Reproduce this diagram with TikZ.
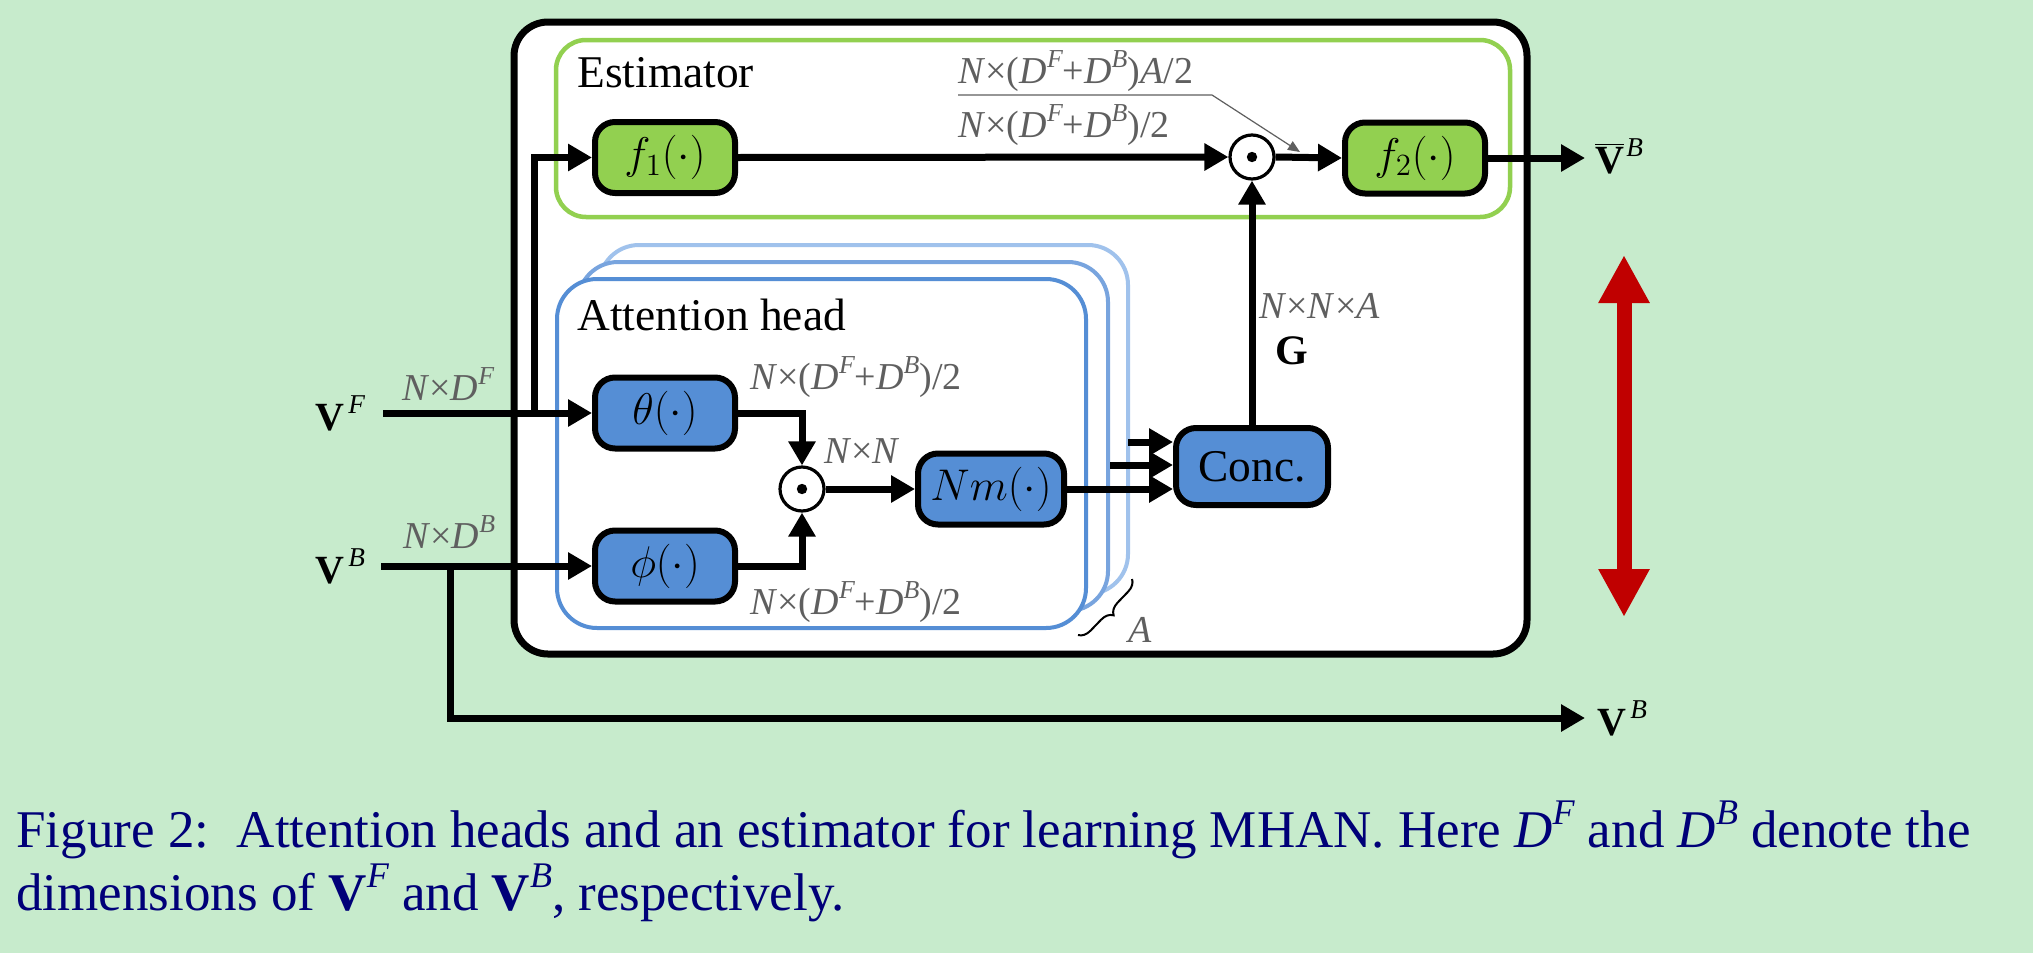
\documentclass[tikz,border=0pt]{standalone}
\usepackage[no-math]{fontspec}
\setmainfont{Liberation Serif}
\usetikzlibrary{arrows.meta,decorations.pathreplacing,calc}
\definecolor{bgc}{RGB}{199,235,204}
\definecolor{fgreen}{RGB}{146,208,80}
\definecolor{fblue}{RGB}{85,142,213}
\definecolor{sblueA}{RGB}{85,142,213}
\definecolor{sblueB}{RGB}{120,164,222}
\definecolor{sblueC}{RGB}{160,194,236}
\definecolor{dimc}{RGB}{95,95,95}
\definecolor{capc}{RGB}{0,0,120}
\definecolor{redc}{RGB}{192,0,0}
\newcommand{\fsz}[1]{\fontsize{#1}{#1}\selectfont}
\newcommand{\itsup}[1]{\raisebox{0.42em}{\scalebox{0.68}{\itshape #1}}}
\newcommand{\blab}[1]{\scalebox{1.07}{$#1$}}
\newcommand{\halfdim}{\textit{N}×(\textit{D}\itsup{F}+\textit{D}\itsup{B})/2}
\tikzset{
  bx/.style={draw=black, line width=3pt, rounded corners=10pt, minimum width=70pt,
    minimum height=35.5pt, inner sep=0pt, font=\fsz{21}},
  gbx/.style={bx, fill=fgreen},
  bbx/.style={bx, fill=fblue},
  odot/.style={circle, draw=black, line width=1.6pt, fill=white, minimum size=22pt, inner sep=0pt},
  ar/.style={line width=3.5pt, -{Triangle[length=12pt,width=13pt]}},
  dim/.style={text=dimc, font=\fsz{19}, inner sep=0pt, anchor=base west},
  ttl/.style={font=\fsz{22.7}, inner sep=0pt, anchor=base west},
  vlab/.style={font=\fsz{20}, inner sep=0pt, anchor=base west},
  capt/.style={text=capc, font=\fsz{26.5}, inner sep=0pt, anchor=base west},
  stk/.style={line width=2pt, fill=white, rounded corners=20pt},
}
\begin{document}
\begin{tikzpicture}[x=0.5pt,y=-0.5pt]
\fill[bgc] (0,0) rectangle (2033,953);
\useasboundingbox (0,0) rectangle (2033,953);

% containers
\draw[line width=3.5pt, fill=white, rounded corners=17pt] (514,22) rectangle (1527,654);
\draw[line width=2.25pt, draw=fgreen, rounded corners=15pt] (556,40) rectangle (1510,217);
\draw[stk, draw=sblueC] (599,245) rectangle (1128,594);
\draw[stk, draw=sblueB] (578,262) rectangle (1108,611);
\draw[stk, draw=sblueA] (557,279) rectangle (1086,628);

% titles
\node[ttl] (est) at (577,87) {Estimator};
\node[ttl] (att) at (577,330) {Attention head};

% blocks
\node[gbx] (f1) at (665,157.5) {\blab{f_1(\cdot)}};
\node[gbx] (f2) at (1415,158) {\blab{f_2(\cdot)}};
\node[bbx] (th) at (665,413) {\blab{\theta(\cdot)}};
\node[bbx] (ph) at (665,566) {\blab{\phi(\cdot)}};
\node[bbx, minimum width=73pt] (nm) at (991,489) {\blab{Nm(\cdot)}};
\node[bbx, minimum width=76pt, minimum height=38.5pt, font=\fsz{22.7}] (cc) at (1252,466.5) {Conc.};
\node[odot] (o1) at (1252,157) {};
\fill (o1.center) circle (2.6pt);
\node[odot] (o2) at (802,489) {};
\fill (o2.center) circle (2.6pt);

% input / output labels
\node[vlab] (vf) at (315,430) {\textbf{V}\hspace{2pt}\itsup{F}};
\node[vlab] (vb) at (315,583) {\textbf{V}\hspace{2pt}\itsup{B}};
\node[vlab] (vbar) at (1595,173) {$\overline{\mbox{\textbf{V}}}$\hspace{1pt}\itsup{B}};
\node[vlab] (vbo) at (1597,735) {\textbf{V}\hspace{2pt}\itsup{B}};

\coordinate (vfs) at (383,413);
\coordinate (jF) at (534,413);
\coordinate (vbs) at (381,566);
\coordinate (jB) at (450,566);
\coordinate (vbend) at (1585,718);
\coordinate (vbarend) at (1585,158);
\coordinate (s1) at (1128,442);
\coordinate (s2) at (1110,465);

% connectors
\draw[ar] (vfs) -- (th.west);
\draw[ar] (jF) |- (f1.west);
\draw[ar] (vbs) -- (ph.west);
\draw[ar] (jB) |- (vbend);
\draw[ar] (th.east) -| (o2.north);
\draw[ar] (ph.east) -| (o2.south);
\draw[ar] (o2.east) -- (nm.west);
\draw[ar] (nm.east) -- (nm.east -| cc.west);
\draw[ar] (s2) -- (s2 -| cc.west);
\draw[ar] (s1) -- (s1 -| cc.west);
\draw[ar] (cc.north) -- (o1.south);
\draw[ar] (f1.east) -- (o1.west);
\draw[ar] (o1.east) -- (f2.west);
\draw[ar] (f2.east) -- (vbarend);

% dimension labels
\node[dim] (ldf) at (402,400) {\textit{N}×\textit{D}\itsup{F}};
\node[dim] (ldb) at (403,548) {\textit{N}×\textit{D}\itsup{B}};
\node[dim] (lth) at (750,389) {\halfdim};
\node[dim] (lph) at (750,614) {\halfdim};
\node[dim] (lnn) at (824,463) {\textit{N}×\textit{N}};
\node[dim] (lnna) at (1259,318) {\textit{N}×\textit{N}×\textit{A}};
\node[font=\fsz{21}\bfseries, inner sep=0pt, anchor=base west] (lg) at (1275,364) {G};
\node[dim] (lup) at (958,83) {\textit{N}×(\textit{D}\itsup{F}+\textit{D}\itsup{B})\textit{A}/2};
\node[dim] (llo) at (958,137) {\halfdim};
\coordinate (pt1) at (958,95);
\coordinate (pt2) at (1212,95);
\coordinate (pt3) at (1300,152);
\draw[dimc, line width=0.6pt, -{Triangle[length=6pt,width=5pt]}] (pt1) -- (pt2) -- (pt3);

% brace
\coordinate (bA) at (1132,579);
\coordinate (bB) at (1078,635);
\draw[decorate, decoration={brace, amplitude=6pt}, line width=1pt] (bA) -- (bB);
\node[dim] (la) at (1128,642) {\textit{A}};

% red double arrow
\coordinate (r1) at (1624,255);
\coordinate (r2) at (1624,617);
\draw[redc, line width=7.5pt, {Triangle[length=24pt,width=24pt]}-{Triangle[length=24pt,width=24pt]}] (r1) -- (r2);

% caption
\node[capt] (cap1) at (16,847) {Figure 2:\hspace{5pt} Attention heads and an estimator for learning MHAN. Here \textit{D}\itsup{F} and \textit{D}\itsup{B} denote the};
\node[capt] (cap2) at (16,910) {dimensions of \textbf{V}\itsup{F} and \textbf{V}\itsup{B}, respectively.};
\end{tikzpicture}
\end{document}
